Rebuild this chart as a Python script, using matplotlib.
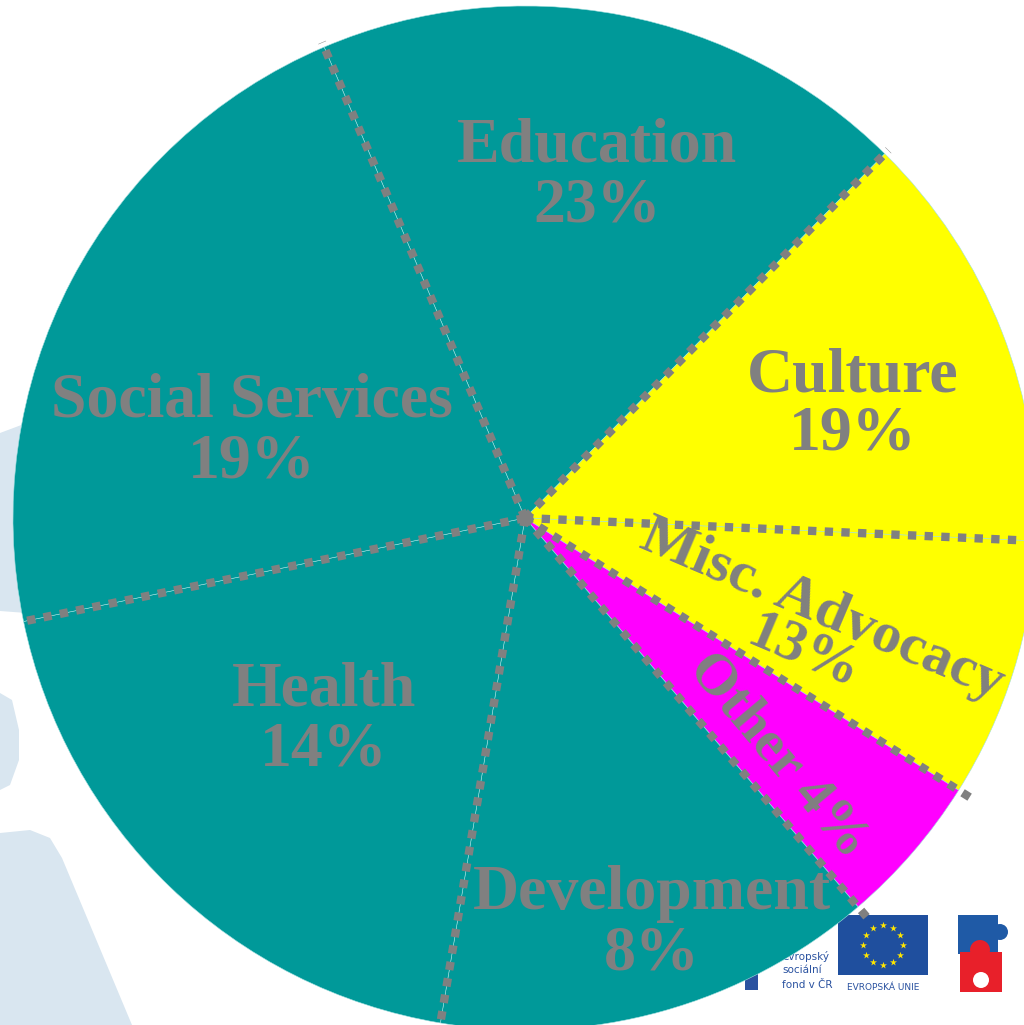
import numpy as np
import matplotlib
matplotlib.use("Agg")
import matplotlib.pyplot as plt
from matplotlib.patches import Polygon, Rectangle, Circle

# slice sizes as drawn (share of the circle, %), clockwise from Education
sectors = ["Education", "Culture", "Misc. Advocacy", "Other",
           "Development", "Health", "Social Services"]
shares = [18.8, 13.3, 8.2, 4.8, 13.9, 19.1, 21.8]
# percentages printed on the slide
label_pct = [23, 19, 13, 4, 8, 14, 19]

TEAL = "#009999"
YELLOW = "#ffff00"
MAGENTA = "#ff00ff"
GREY = "#808080"
colors = [TEAL, YELLOW, YELLOW, MAGENTA, TEAL, TEAL, TEAL]

W, H = 1024, 1025


def py(y):
    # pixel row -> data y
    return H - y


fig = plt.figure(figsize=(W / 100, H / 100), dpi=100)
ax = fig.add_axes([0, 0, 1, 1])

# faint logo watermark behind the pie
wm = "#d9e6f0"
for pts in [
    [(0, 433), (40, 418), (40, 614), (0, 611)],
    [(0, 693), (12, 700), (19, 730), (19, 760), (10, 785), (0, 790)],
    [(0, 833), (30, 830), (50, 838), (62, 858), (132, 1025), (0, 1025)],
]:
    ax.add_patch(Polygon([(x, py(y)) for x, y in pts], closed=True,
                         facecolor=wm, edgecolor="none", zorder=0))
ax.add_patch(Rectangle((745, py(990)), 13, 30, facecolor="#2a52a0",
                       edgecolor="none", zorder=0))

cx, cy, r = 525, py(518), 512
start = 113.1
wedges, _ = ax.pie(shares, colors=colors, startangle=start, counterclock=False,
                   center=(cx, cy), radius=r,
                   wedgeprops=dict(edgecolor="#9fdede", linewidth=0.4))
for w in wedges:
    w.set_zorder(2)

# dotted separators between sectors
bounds = start - np.cumsum([0] + shares[:-1]) * 360 / sum(shares)
ext = [1.01, 1.01, 1.0, 1.04, 1.04, 1.0, 1.0]
for a, e in zip(bounds, ext):
    t = np.deg2rad(a)
    ax.plot([cx, cx + r * e * np.cos(t)], [cy, cy + r * e * np.sin(t)],
            color=GREY, lw=6, linestyle=(0, (1, 1.0)),
            dash_capstyle="butt", zorder=3)

font = dict(family="Liberation Serif", weight="bold", color=GREY, zorder=4)
# x centre, baseline of name line, baseline of percent line
plain_pos = {"Education": (597, 161, 221), "Culture": (853, 391, 450),
             "Social Services": (252, 417, 478), "Health": (324, 705, 766),
             "Development": (652, 909, 969)}
for name, pct in zip(sectors, label_pct):
    if name in plain_pos:
        x, y1, y2 = plain_pos[name]
        ax.text(x, py(y1), name, ha="center", va="baseline", fontsize=46,
                **font)
        ax.text(x, py(y2), f"{pct}%", ha="center", va="baseline",
                fontsize=46, **font)

ax.text(822, py(610), sectors[2], ha="center", va="center", fontsize=42,
        rotation=-23, rotation_mode="anchor", **font)
ax.text(804, py(652), f"{label_pct[2]}%", ha="center", va="center",
        fontsize=42, rotation=-23, rotation_mode="anchor", **font)
ax.text(779, py(756), f"{sectors[3]} {label_pct[3]}%", ha="center",
        va="center", fontsize=42, rotation=-50, rotation_mode="anchor", **font)

# funding logos, bottom right
ax.add_patch(Rectangle((838, py(975)), 90, 60, facecolor="#1f4f9e",
                       edgecolor="none", zorder=1))
ang = np.linspace(0, 2 * np.pi, 13)[:-1]
ax.scatter(883 + 20 * np.cos(ang), py(945) + 20 * np.sin(ang), marker="*",
           s=28, color="#ffe600", linewidths=0, zorder=1.5)
ax.text(883, py(988), "EVROPSKÁ UNIE", ha="center", va="center",
        fontsize=6.5, color="#2a52a0", family="DejaVu Sans", zorder=1)
esf = dict(va="center", fontsize=7.5, color="#2a52a0", family="DejaVu Sans",
           zorder=1)
ax.text(829, py(956), "evropský", ha="right", **esf)
ax.text(782, py(970), "sociální", ha="left", **esf)
ax.text(782, py(985), "fond v ČR", ha="left", **esf)
ax.add_patch(Rectangle((958, py(954)), 40, 39, facecolor="#1f5aa6",
                       edgecolor="none", zorder=1))
ax.add_patch(Circle((1000, py(932)), 8, facecolor="#1f5aa6",
                    edgecolor="none", zorder=1))
ax.add_patch(Rectangle((960, py(992)), 42, 40, facecolor="#e8202a",
                       edgecolor="none", zorder=1.2))
ax.add_patch(Circle((980, py(950)), 10, facecolor="#e8202a",
                    edgecolor="none", zorder=1.2))
ax.add_patch(Circle((981, py(980)), 8, facecolor="white",
                    edgecolor="none", zorder=1.3))

ax.set_xlim(0, W)
ax.set_ylim(0, H)
ax.set_aspect("auto")
ax.axis("off")

fig.savefig("out.png", dpi=100, facecolor="white")
